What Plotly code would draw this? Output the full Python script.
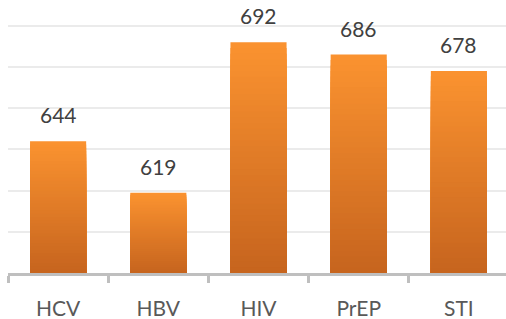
import plotly.graph_objects as go

categories = ["HCV", "HBV", "HIV", "PrEP", "STI"]
values = [644, 619, 692, 686, 678]
y_base = 580

top_rgb = (251, 147, 48)
bot_rgb = (198, 100, 30)
N = 40

fig = go.Figure()
for i in range(N):
    f = 1 - i / N
    mid = 1 - (i + 0.5) / N
    c = tuple(int(round(bot_rgb[k] + (top_rgb[k] - bot_rgb[k]) * mid)) for k in range(3))
    fig.add_trace(go.Bar(
        x=categories,
        y=[(v - y_base) * f for v in values],
        base=y_base,
        marker=dict(color="rgb(%d,%d,%d)" % c, line=dict(width=0)),
        width=0.56,
        hoverinfo="skip",
        showlegend=False,
    ))

for cat, v in zip(categories, values):
    fig.add_annotation(x=cat, y=v, text=str(v), showarrow=False,
                       yanchor="bottom", yshift=12,
                       font=dict(family="Lato", size=21, color="#404040"))

fig.update_layout(
    width=506, height=319,
    margin=dict(l=8, r=0, t=0, b=46),
    barmode="overlay",
    plot_bgcolor="white", paper_bgcolor="white",
    xaxis=dict(range=[-0.5, 4.47], showline=True, linecolor="#bfbfbf", linewidth=3,
               ticks="outside", tickson="boundaries", ticklen=7, tickwidth=3,
               tickcolor="#bfbfbf", ticklabelstandoff=15,
               tickfont=dict(family="Lato", size=21, color="#595959")),
    yaxis=dict(range=[y_base, 712.5], dtick=20, tick0=580, showticklabels=False,
               showgrid=True, gridcolor="#ebebeb", gridwidth=2, zeroline=False),
)

fig.write_html("out.html", config={"displayModeBar": False},
               post_script="document.body.style.margin='0';")
